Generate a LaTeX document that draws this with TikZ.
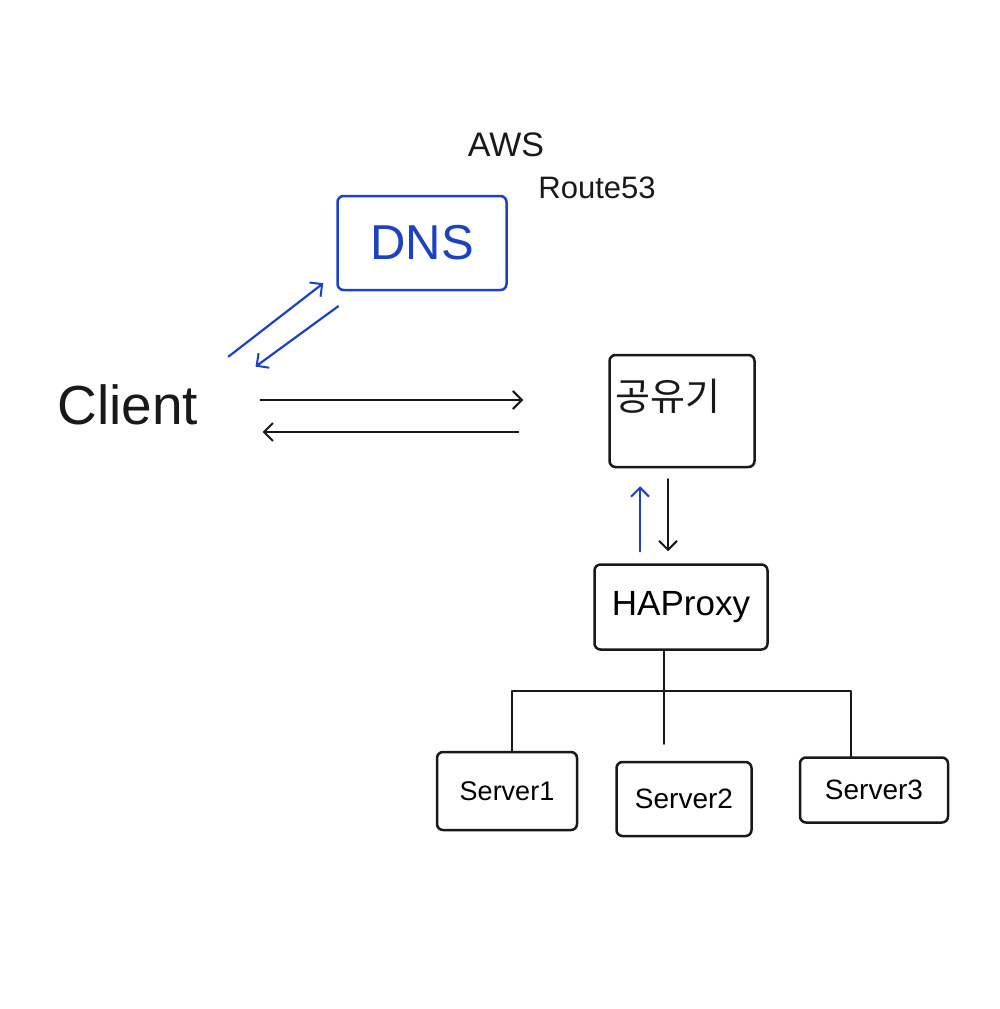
\documentclass[tikz,border=0pt]{standalone}
\usepackage{fontspec}
\setmainfont{Liberation Sans}
\newfontfamily\krfont{Noto Sans CJK KR}
\usetikzlibrary{arrows.meta,calc}
\definecolor{inkblue}{RGB}{28,66,196}
\definecolor{ink}{RGB}{25,25,25}
\tikzset{
  box/.style={draw=ink, line width=2.5pt, rounded corners=6pt, inner sep=0pt},
  bluebox/.style={box, draw=inkblue},
  txt/.style={inner sep=0pt, text=ink},
  conn/.style={draw=ink, line width=2.2pt, line cap=round, line join=round},
  arr/.style={conn, -{Straight Barb[length=9pt,width=18pt,line width=2pt]}},
  bluearr/.style={arr, draw=inkblue},
}
\begin{document}
\begin{tikzpicture}[x=1pt,y=-1pt]
\path[use as bounding box, fill=white] (0,0) rectangle (1000,1009);

% labels for DNS provider
\node[txt, font=\fontsize{34}{34}\selectfont] (aws) at (506,145) {AWS};
\node[txt, font=\fontsize{31}{31}\selectfont] (r53) at (597,188) {Route53};

% DNS box
\node[bluebox, minimum width=169pt, minimum height=94pt, text=inkblue,
      font=\fontsize{49}{49}\selectfont] (dns) at (422,243) {DNS};

% client
\node[txt, font=\fontsize{55}{55}\selectfont] (client) at (128,405) {Client};

% router box
\node[box, minimum width=145pt, minimum height=112pt] (router) at (682,411) {};
\node[txt, font=\krfont\fontsize{38}{38}\selectfont] (routerlabel) at (668,396) {공유기};

% HAProxy box
\node[box, minimum width=173pt, minimum height=85pt,
      font=\fontsize{35}{35}\selectfont] (hap) at (681,607) {HAProxy};

% servers
\node[box, minimum width=140pt, minimum height=78pt,
      font=\fontsize{27}{27}\selectfont] (s1) at (507,791) {Server1};
\node[box, minimum width=135pt, minimum height=74pt,
      font=\fontsize{28}{28}\selectfont] (s2) at (684,799) {Server2};
\node[box, minimum width=148pt, minimum height=65pt,
      font=\fontsize{28}{28}\selectfont] (s3) at (874,790) {Server3};

% client <-> DNS
\draw[bluearr] ($(client.north east)+(30,-28)$) -- ($(dns.south west)+(-13,-8)$);
\draw[bluearr] ($(dns.south west)+(2,15)$) -- ($(client.north east)+(57,-18)$);

% client <-> router
\draw[arr] ($(client.east)+(62,-5)$) -- ($(router.west)+(-85,-11)$);
\draw[arr] ($(router.west)+(-90,21)$) -- ($(client.east)+(64,27)$);

% router <-> HAProxy
\draw[bluearr] ($(hap.north)+(-41,-12)$) -- ($(router.south)+(-42,18)$);
\draw[arr] ($(router.south)+(-14,11)$) -- ($(hap.north)+(-13,-12)$);

% HAProxy -> servers
\draw[conn] ($(hap.south)+(-17,0)$) -- ($(hap.south)+(-17,42)$) coordinate (bus);
\draw[conn] ($(s1.north)+(5,0)$) |- ($(s3.north)+(-23,-65)$) -- ($(s3.north)+(-23,0)$);
\draw[conn] (bus) -- ($(s2.north)+(-20,-17)$);
\end{tikzpicture}
\end{document}
